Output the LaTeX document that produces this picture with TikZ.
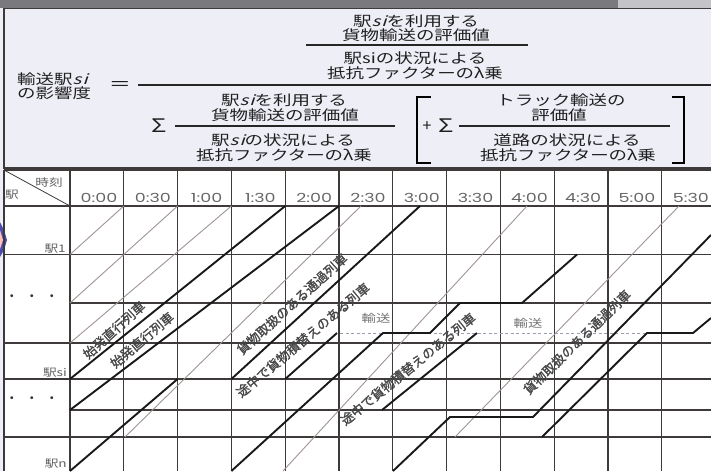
\documentclass[tikz,border=0pt]{standalone}
\usepackage{fontspec}
\usepackage{graphicx}
\newfontfamily\jpf{Noto Sans CJK JP}
\newfontfamily\jpitf{Noto Sans CJK JP}[FakeSlant=0.25]
\newfontfamily\jplab{Noto Sans CJK JP}[FakeBold=1.2]
\newfontfamily\numf{Poppins}
\newcommand{\isi}{{\jpitf s\kern1pt i}}
\newcommand{\FT}[1]{\scalebox{1.32}[1]{#1}}
\newcommand{\GT}[1]{\scalebox{1.3}[1]{#1}}
\definecolor{formbg}{RGB}{238,238,247}
\definecolor{barc}{RGB}{122,122,126}
\definecolor{barl}{RGB}{196,196,200}
\definecolor{gridc}{RGB}{62,58,58}
\definecolor{thinc}{RGB}{160,148,148}
\definecolor{labc}{RGB}{70,70,70}
\definecolor{dashc}{RGB}{150,160,175}
\tikzset{
 ftext/.style={inner sep=0pt, text=black!88, font=\jpf\fontsize{14}{15}\selectfont},
 gline/.style={draw=gridc, line width=1.2pt},
 thinl/.style={draw=thinc, line width=0.9pt},
 thickl/.style={draw=black!90, line width=1.9pt, line join=round},
 rlabel/.style={inner sep=0pt, text=labc, font=\jplab\fontsize{13}{13}\selectfont},
 timel/.style={inner sep=0pt, text=black!60, font=\numf\fontsize{12.5}{12.5}\selectfont},
 stl/.style={inner sep=0pt, text=black!62, font=\jpf\fontsize{10.5}{11}\selectfont},
 brk/.style={draw=black, line width=2.3pt},
 fline/.style={draw=black!85, line width=1.4pt},
 bigop/.style={inner sep=0pt, text=black!88, font=\jpf\fontsize{17}{17}\selectfont},
}
\begin{document}
\begin{tikzpicture}[x=1pt,y=-1pt]
\useasboundingbox (0,0) rectangle (711,471);
\clip (0,0) rectangle (711,471);
% backgrounds
\fill[formbg] (0,0) rectangle (711,471);
\fill[barc] (0,0) rectangle (618,8);
\fill[barl] (618,0) rectangle (711,8);
\fill[formbg] (4,8) rectangle (711,168);
\draw[gridc, line width=1.3pt] (4,8.5) -- (711,8.5);
\draw[gridc, line width=1.3pt] (4,8) -- (4,168) -- (711,168);
\fill[white] (4,170) rectangle (711,471);
% left blue marker
\fill[blue!55!black!70] (0,222) -- (4,230) -- (7,240) -- (4,250) -- (0,257) -- cycle;
\fill[pink] (0,230) -- (3,240) -- (0,249) -- cycle;

% ---- formula ----
\node[ftext] (n1) at (416,21) {\FT{駅\isi を利用する}};
\node[ftext] (n2) at (416,35) {\FT{貨物輸送の評価値}};
\draw[fline] (306,45) -- (528,45);
\node[ftext] (n3) at (415,58) {\FT{駅siの状況による}};
\node[ftext] (n4) at (415,73) {\FT{抵抗ファクターのλ乗}};
\draw[fline] (138,85) -- (711,85);
\node[ftext, anchor=west] (lhs1) at (17,79) {\FT{輸送駅\isi}};
\node[ftext, anchor=west] (lhs2) at (17,93) {\FT{の影響度}};
\node[bigop] (eq) at (120,86) {\scalebox{1.3}[1]{＝}};
% denominator left
\node[bigop] (sig1) at (159,126) {\scalebox{1.5}[1.1]{Σ}};
\node[ftext] (d1) at (284,100) {\FT{駅\isi を利用する}};
\node[ftext] (d2) at (285,115) {\FT{貨物輸送の評価値}};
\draw[fline] (175,126) -- (395,126);
\node[ftext] (d3) at (283,140) {\FT{駅\isi の状況による}};
\node[ftext] (d4) at (284,155) {\FT{抵抗ファクターのλ乗}};
% bracket part
\draw[brk] (431,97) -- (417,97) -- (417,163) -- (431,163);
\node[bigop, font=\jpf\fontsize{16}{16}\selectfont] (plus) at (427,127) {+};
\node[bigop] (sig2) at (446,126) {\scalebox{1.5}[1.1]{Σ}};
\node[ftext] (e1) at (561,100) {\FT{トラック輸送の}};
\node[ftext] (e2) at (559,115) {\FT{評価値}};
\draw[fline] (459,126) -- (670,126);
\node[ftext] (e3) at (567,140) {\FT{道路の状況による}};
\node[ftext] (e4) at (568,155) {\FT{抵抗ファクターのλ乗}};
\draw[brk] (672,97) -- (684,97) -- (684,163) -- (672,163);

% ---- grid ----
\foreach \y in {206,254.5,343,379,437} \draw[gline] (4,\y) -- (711,\y);
\foreach \y in {303,410} \draw[gline] (70,\y) -- (711,\y);
\draw[gline] (4,170) -- (711,170);
\draw[gline] (4,170) -- (4,471);
\foreach \i in {0,...,12} \draw[gline] ({70+53.8*\i},170) -- ({70+53.8*\i},471);
\draw[gridc, line width=0.8pt] (4,170) -- (70,206);
\node[stl] (hjik) at (49,183) {\GT{時刻}};
\node[stl] (heki) at (12,195) {\GT{駅}};
\foreach \tm [count=\i from 0] in {0:00,0:30,1:00,1:30,2:00,2:30,3:00,3:30,4:00,4:30,5:00,5:30}
  \node[timel] (tm\i) at ({70+53.8*\i+29},198) {\scalebox{1.4}[1]{\tm}};
\node[stl, anchor=east] (s1) at (66,249) {\GT{駅1}};
\node[stl, anchor=east] (ssi) at (67,373) {\GT{駅si}};
\node[stl, anchor=east] (sn) at (67,464) {\GT{駅n}};
\node[stl, font=\jpf\fontsize{14}{14}\selectfont, text=black!80] (dots1) at (32,298) {・\hspace{6pt}・\hspace{6pt}・};
\node[stl, font=\jpf\fontsize{14}{14}\selectfont, text=black!80] (dots2) at (32,400) {・\hspace{6pt}・\hspace{6pt}・};

% ---- thin trains ----
\draw[thinl] (70,254.5) -- (123.8,206);
\draw[thinl] (70,303) -- (177.6,206);
\draw[thinl] (70,343) -- (231.4,206);
\draw[thinl] (125,437) -- (361,206);
\draw[thinl] (283,471) -- (527,206);
\draw[thinl] (455,437) -- (679,206);

% ---- truck transport dashed ----
\draw[dashc, line width=0.9pt, dash pattern=on 3pt off 2.5pt] (340,333) -- (648,333);
\node[stl, text=black!55, font=\jpf\fontsize{11}{11}\selectfont] (yu1) at (376,318) {\GT{輸送}};
\node[stl, text=black!55, font=\jpf\fontsize{11}{11}\selectfont] (yu2) at (528,323) {\GT{輸送}};

% ---- thick trains ----
\draw[thickl] (70,379) -- (285.2,206);
\draw[thickl] (70,410) -- (339,206);
\draw[thickl] (70,471) -- (177.6,379);
\draw[thickl] (231.4,379) -- (420,206);
\draw[thickl] (285.2,379) -- (337,333);
\draw[thickl] (231.4,471) -- (383,333) -- (430,333) -- (460,303) -- (522,303) -- (577,254.5);
\draw[thickl] (382,410) -- (477,333);
\draw[thickl] (393,471) -- (450,417) -- (533,417) -- (711,235);
\draw[thickl] (542,437) -- (647,333) -- (693,333) -- (711,318);

% ---- rotated labels ----
\node[rlabel, rotate=42] (lab1) at (114,330) {始発直行列車};
\node[rlabel, rotate=40] (lab2) at (142,340) {始発直行列車};
\node[rlabel, rotate=42] (lab3) at (292,304) {貨物取扱のある通過列車};
\node[rlabel, rotate=40] (lab4) at (303,340) {途中で貨物積替えのある列車};
\node[rlabel, rotate=39] (lab5) at (408,369) {途中で貨物積替えのある列車};
\node[rlabel, rotate=44] (lab6) at (577,342) {貨物取扱のある通過列車};
\end{tikzpicture}
\end{document}
